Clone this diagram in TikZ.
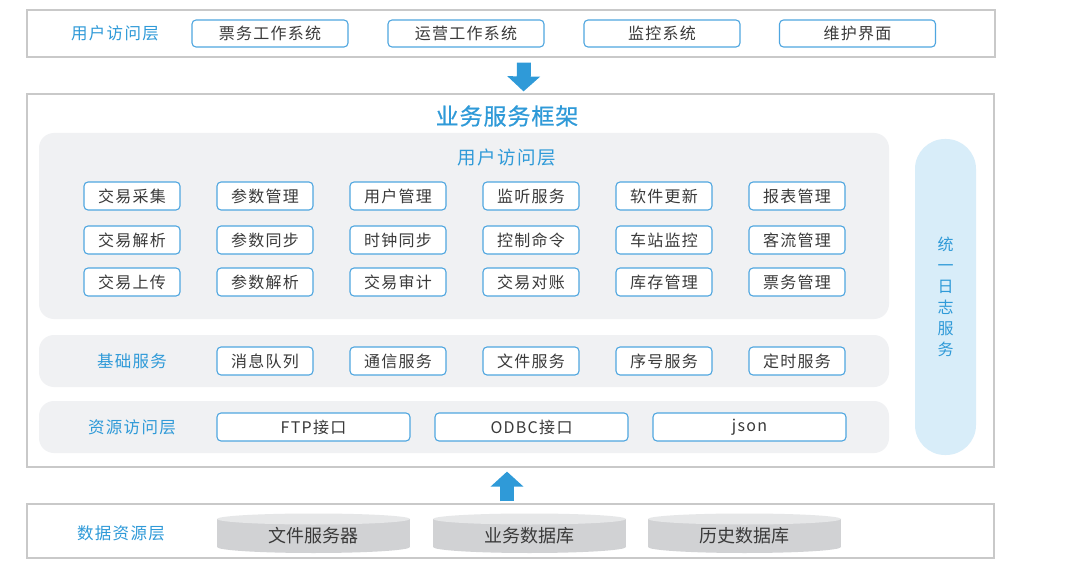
\documentclass[tikz,border=0pt]{standalone}
\usepackage{fontspec}
\setmainfont{Noto Sans CJK SC}
\newfontfamily\btnfont[LetterSpace=8]{Noto Sans CJK SC}
\newfontfamily\titlefont[FakeBold=0.6,LetterSpace=4]{Noto Sans CJK SC}
\usepackage{xcolor}
\usepackage{tikz}
\usetikzlibrary{arrows.meta,positioning}
\definecolor{archblue}{HTML}{2F9AD8}
\definecolor{btnline}{HTML}{4FA6E0}
\definecolor{framegray}{HTML}{C9C9C9}
\definecolor{panelgray}{HTML}{F0F1F3}
\definecolor{logblue}{HTML}{D8EDF9}
\definecolor{textgray}{HTML}{3A3A3A}
\definecolor{dbbody}{HTML}{D1D2D4}
\definecolor{dbtop}{HTML}{E6E7E8}
\tikzset{
  layer/.style={draw=framegray, line width=1.2pt, fill=white, inner sep=0pt},
  panel/.style={fill=panelgray, rounded corners=15pt, inner sep=0pt},
  btn/.style={draw=btnline, line width=1.1pt, fill=white, rounded corners=4pt,
    text=textgray, font=\btnfont\fontsize{16}{18}\selectfont, inner sep=0pt,
    minimum height=28pt},
  layerlabel/.style={text=archblue, font=\btnfont\fontsize{16.5}{18}\selectfont},
  bigarrow/.style={draw=archblue, line width=14pt, -{Triangle[length=15pt,width=32pt]}},
}

\begin{document}
\begin{tikzpicture}[x=1pt, y=-1pt]
	\useasboundingbox (0,0) rectangle (1069,575);
	% top layer
	\node[layer, minimum width=968pt, minimum height=47pt] (userbox) at (511,33.5) {};
	\node[layerlabel] (userlabel) at (115,33.5) {用户访问层};
	\foreach \x/\name [count=\i] in {270/票务工作系统, 466/运营工作系统, 662/监控系统, 857.5/维护界面}
		\node[btn, minimum width=156pt, minimum height=27pt] (app\i) at (\x,33.5) {\name};
	% framework
	\node[layer, minimum width=967pt, minimum height=373pt] (frame) at (510.5,280.5) {};
	\node[text=archblue, font=\titlefont\fontsize{23}{25}\selectfont] (title) at (507,116) {业务服务框架};
	\node[panel, minimum width=850pt, minimum height=186pt] (bizpanel) at (464,226) {};
	\node[text=archblue, font=\btnfont\fontsize{18.5}{20}\selectfont] (biztitle) at (507,158) {用户访问层};
	\foreach \y/\row [count=\r] in {196/{交易采集,参数管理,用户管理,监听服务,软件更新,报表管理},
	                                240/{交易解析,参数同步,时钟同步,控制命令,车站监控,客流管理},
	                                282/{交易上传,参数解析,交易审计,交易对账,库存管理,票务管理}}
		\foreach \name [count=\c] in \row
			\node[btn, minimum width=96pt] (biz\r\c) at ({132+133*(\c-1)},\y) {\name};
	% basic services
	\node[panel, minimum width=850pt, minimum height=52pt] (basepanel) at (464,361) {};
	\node[layerlabel] (baselabel) at (132,361) {基础服务};
	\foreach \name [count=\c] in {消息队列,通信服务,文件服务,序号服务,定时服务}
		\node[btn, minimum width=96pt] (base\c) at ({265+133*(\c-1)},361) {\name};
	% resource access
	\node[panel, minimum width=850pt, minimum height=52pt] (respanel) at (464,427) {};
	\node[layerlabel] (reslabel) at (132,427) {资源访问层};
	\foreach \x/\name [count=\c] in {313.5/FTP接口, 531.5/ODBC接口, 749.5/json}
		\node[btn, minimum width=193pt] (res\c) at (\x,427) {\name};
	% log service
	\node[fill=logblue, rounded corners=30pt, minimum width=61pt, minimum height=316pt] (log) at (945.5,297) {};
	\node[text=archblue, font=\fontsize{16}{21}\selectfont, align=center] (logtext) at (log) {统\\一\\日\\志\\服\\务};
	% data layer
	\node[layer, minimum width=967pt, minimum height=54pt] (databox) at (510.5,531) {};
	\node[layerlabel] (datalabel) at (121,533) {数据资源层};
	\foreach \x/\name [count=\c] in {313.5/文件服务器, 529.5/业务数据库, 744.5/历史数据库} {
		\fill[dbbody] (\x-96.5,519) rectangle (\x+96.5,547);
		\fill[dbbody] (\x,547) ellipse (96.5 and 6);
		\fill[dbtop] (\x,519) ellipse (96.5 and 5.5);
		\node[text=textgray, font=\fontsize{18}{20}\selectfont] (db\c) at (\x,536) {\name};
	}
	% arrows
	\draw[bigarrow, shorten <=5pt, shorten >=2pt] ([xshift=13pt]userbox.south) -- ([xshift=13pt]frame.north);
	\draw[bigarrow, shorten <=2pt, shorten >=4pt] ([xshift=-3.5pt]databox.north) -- ([xshift=-3.5pt]frame.south);
\end{tikzpicture}
\end{document}
